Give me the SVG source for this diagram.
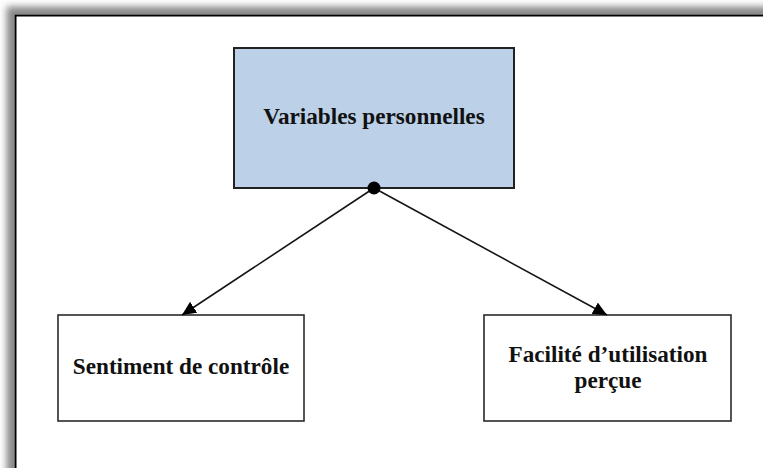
<svg xmlns="http://www.w3.org/2000/svg" width="763" height="468" viewBox="0 0 763 468">
  <style>
    .label { font-family: "Liberation Serif", "Times New Roman", serif; font-weight: bold; font-size: 23.2px; fill: #111; text-anchor: middle; }
    .box { fill: #ffffff; stroke: #2a2a2a; stroke-width: 1.6; }
    .main { fill: #bcd0e8; stroke: #222; stroke-width: 2; }
    .link { stroke: #151515; stroke-width: 1.6; fill: none; }
  </style>
  <defs>
    <filter id="frameShadow" x="-5%" y="-5%" width="110%" height="110%">
      <feDropShadow dx="-8" dy="-8" stdDeviation="3.5" flood-color="#888888" flood-opacity="1"/>
    </filter>
    <marker id="arrow" markerUnits="userSpaceOnUse" markerWidth="16" markerHeight="14" refX="14" refY="6.5" orient="auto">
      <path d="M0,0 L14,6.5 L0,13 z" fill="#000"/>
    </marker>
  </defs>

  <rect width="763" height="468" fill="#ffffff"/>

  <!-- outer frame with shadow on the top and left -->
  <rect x="15.5" y="15.5" width="800" height="500" fill="#ffffff" stroke="#000" stroke-width="2" filter="url(#frameShadow)"/>

  <g id="node-variables">
    <rect class="main" x="234" y="48" width="280" height="140"/>
    <text class="label" x="374" y="124">Variables personnelles</text>
  </g>

  <g id="node-controle">
    <rect class="box" x="58" y="315" width="246" height="106"/>
    <text class="label" x="181" y="374">Sentiment de contrôle</text>
  </g>

  <g id="node-facilite">
    <rect class="box" x="484" y="315" width="247" height="106"/>
    <text class="label" x="608" y="362">Facilité d’utilisation</text>
    <text class="label" x="608" y="388">perçue</text>
  </g>

  <!-- connectors: round origin on the top box, arrowheads on the lower boxes -->
  <g id="connectors">
    <line class="link" x1="374" y1="188" x2="182" y2="315" marker-end="url(#arrow)"/>
    <line class="link" x1="374" y1="188" x2="607" y2="315" marker-end="url(#arrow)"/>
    <circle cx="374" cy="188" r="6.5" fill="#000"/>
  </g>
</svg>
